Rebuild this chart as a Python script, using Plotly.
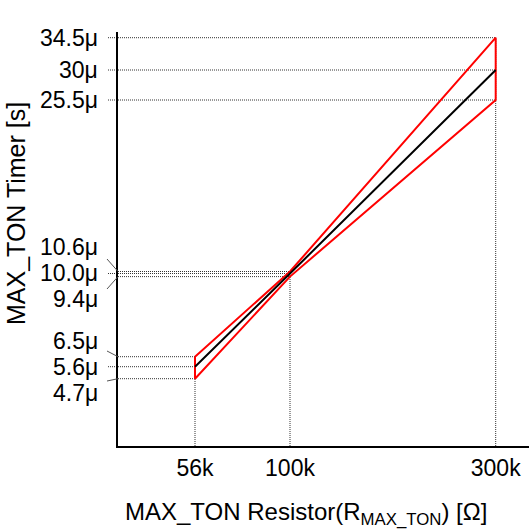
import numpy as np
import plotly.graph_objects as go

# ---------------- data ----------------
R_KOHM = [56, 100, 300]                 # resistor values (kOhm)
R_LABELS = ["56k", "100k", "300k"]
T_TYP = [5.6, 10.0, 30.0]               # typical MAX_TON time (us)
T_MAX = [6.5, 10.6, 34.5]               # upper limit (us)
T_MIN = [4.7, 9.4, 25.5]                # lower limit (us)
Y_LABELS = ["34.5μ", "30μ", "25.5μ", "10.6μ", "10.0μ", "9.4μ", "6.5μ", "5.6μ", "4.7μ"]
Y_LABEL_VALUES = [34.5, 30.0, 25.5, 10.6, 10.0, 9.4, 6.5, 5.6, 4.7]

# ---------------- schematic (non-linear) axis scales ----------------
# the original drawing is a schematic: each axis is a piecewise scale
X_SCALE_VAL = [56, 100, 300]
X_SCALE_POS = [77.0, 172.0, 377.7]
Y_SCALE_VAL = [4.7, 5.6, 6.5, 9.4, 10.0, 10.6, 25.5, 30.0, 34.5]
Y_SCALE_POS = [67.3, 79.3, 89.3, 169.4, 172.5, 174.5, 346.0, 376.0, 408.3]
X_RANGE = 411.0
Y_RANGE = 414.0


def xmap(v):
    return np.interp(v, X_SCALE_VAL, X_SCALE_POS)


def ymap(v):
    return np.interp(v, Y_SCALE_VAL, Y_SCALE_POS)


# label placement (axis units); crowded labels are offset with a leader line
LABEL_Y_POS = [408.0, 376.0, 346.0, 199.0, 173.5, 147.0, 105.0, 79.3, 53.2]
LEADER_START = [None, None, None, 187.0, None, 157.0, 95.0, None, 65.0]

FONT = "Liberation Sans, Arial, sans-serif"

fig = go.Figure()

# red limit envelope
env_x = [R_KOHM[0], R_KOHM[1], R_KOHM[2], R_KOHM[2], R_KOHM[1], R_KOHM[0], R_KOHM[0]]
env_y = [T_MAX[0], T_MAX[1], T_MAX[2], T_MIN[2], T_MIN[1], T_MIN[0], T_MAX[0]]
fig.add_trace(go.Scatter(x=xmap(env_x), y=ymap(env_y), mode="lines",
                         line=dict(color="#ff0000", width=2), hoverinfo="skip",
                         showlegend=False))
# typical line
fig.add_trace(go.Scatter(x=xmap(R_KOHM), y=ymap(T_TYP), mode="lines",
                         line=dict(color="black", width=2), showlegend=False))

shapes = []
dot = dict(color="#333333", width=1, dash="1px,1px")
# horizontal and vertical guides
for i, r in enumerate(R_KOHM):
    for t in (T_MAX[i], T_TYP[i], T_MIN[i]):
        k = Y_LABEL_VALUES.index(t)
        x0 = 0.0 if LEADER_START[k] is not None else -10.0
        shapes.append(dict(type="line", xref="paper", yref="paper",
                           x0=x0 / X_RANGE, x1=float(xmap(r)) / X_RANGE,
                           y0=float(ymap(t)) / Y_RANGE, y1=float(ymap(t)) / Y_RANGE,
                           line=dot, layer="below"))
    shapes.append(dict(type="line", xref="paper", yref="paper",
                       x0=float(xmap(r)) / X_RANGE, x1=float(xmap(r)) / X_RANGE,
                       y0=0, y1=float(ymap(T_MAX[i])) / Y_RANGE,
                       line=dot, layer="below"))

annotations = []
for lab, v, lp, ls in zip(Y_LABELS, Y_LABEL_VALUES, LABEL_Y_POS, LEADER_START):
    annotations.append(dict(text=lab, xref="paper", yref="paper",
                            x=-18.0 / X_RANGE, y=lp / Y_RANGE,
                            xanchor="right", yanchor="middle", showarrow=False,
                            font=dict(family=FONT, size=23, color="black")))
    if ls is not None:
        shapes.append(dict(type="line", xref="paper", yref="paper",
                           x0=-11.0 / X_RANGE, x1=0.0,
                           y0=ls / Y_RANGE, y1=float(ymap(v)) / Y_RANGE,
                           line=dict(color="#555555", width=1)))

annotations.append(dict(text="MAX_TON Resistor(R<sub>MAX_TON</sub>) [Ω]",
                        xref="paper", yref="paper", x=(306 - 118) / X_RANGE,
                        y=-(513 - 446) / Y_RANGE, xanchor="center", yanchor="middle",
                        showarrow=False, font=dict(family=FONT, size=24, color="black")))
annotations.append(dict(text="MAX_TON Timer [s]", textangle=-90,
                        xref="paper", yref="paper", x=-(118 - 16) / X_RANGE,
                        y=(446 - 214) / Y_RANGE, xanchor="center", yanchor="middle",
                        showarrow=False, font=dict(family=FONT, size=25, color="black")))

fig.update_layout(
    width=529, height=529,
    margin=dict(l=118, r=0, t=32, b=83),
    paper_bgcolor="white", plot_bgcolor="white",
    shapes=shapes, annotations=annotations,
    xaxis=dict(range=[0, X_RANGE], showgrid=False, zeroline=False,
               showline=True, linecolor="black", linewidth=2,
               tickvals=list(xmap(R_KOHM)), ticktext=R_LABELS, ticks="",
               tickfont=dict(family=FONT, size=23, color="black")),
    yaxis=dict(range=[0, Y_RANGE], showgrid=False, zeroline=False,
               showline=True, linecolor="black", linewidth=2,
               showticklabels=False, ticks=""),
)

fig.write_html("out.html")
